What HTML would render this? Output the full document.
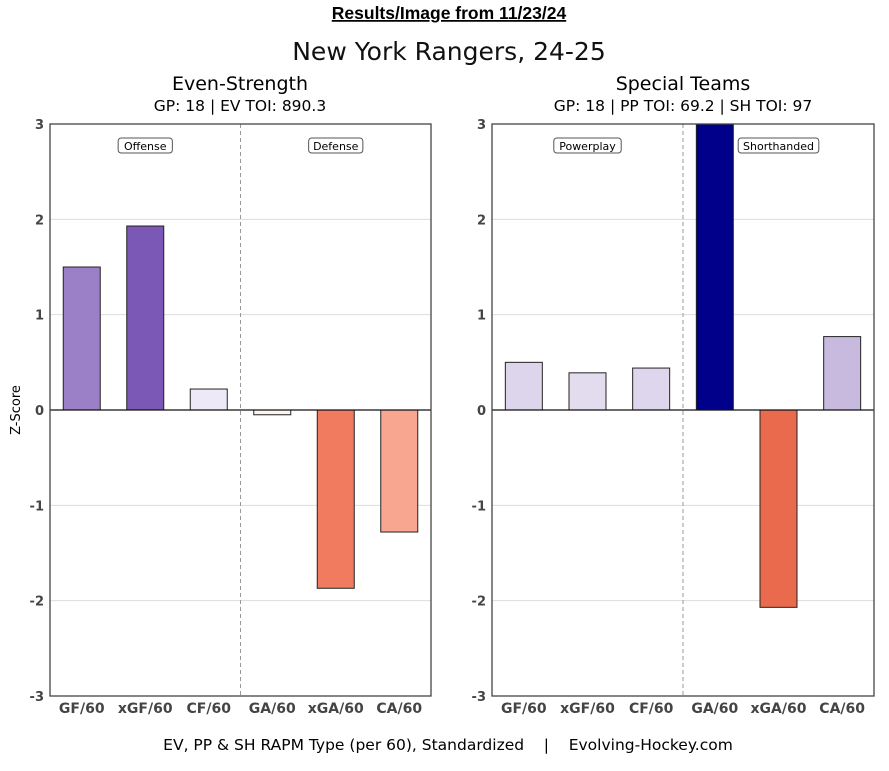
<!DOCTYPE html>
<html><head><meta charset="utf-8"><style>
body{margin:0;background:#fff;width:889px;height:767px;overflow:hidden;font-family:"DejaVu Sans","Liberation Sans",sans-serif}
svg text{font-family:"DejaVu Sans","Liberation Sans",sans-serif}
</style></head><body>
<svg id="chart" width="889" height="767">
<text x="449" y="19" text-anchor="middle" font-weight="bold" font-size="17.5" text-decoration="underline" style="font-family:'Liberation Sans',sans-serif">Results/Image from 11/23/24</text>
<text x="449" y="60" text-anchor="middle" font-size="25" fill="#111">New York Rangers, 24-25</text>
<text x="240" y="90" text-anchor="middle" font-size="19">Even-Strength</text>
<text x="240" y="111" text-anchor="middle" font-size="15.5">GP: 18 | EV TOI: 890.3</text>
<text x="683" y="90" text-anchor="middle" font-size="19">Special Teams</text>
<text x="683" y="111" text-anchor="middle" font-size="15.5">GP: 18 | PP TOI: 69.2 | SH TOI: 97</text>
<text x="20" y="410" text-anchor="middle" font-size="13" transform="rotate(-90 20 410)">Z-Score</text>
<text x="448" y="750" text-anchor="middle" font-size="15.5">EV, PP &amp; SH RAPM Type (per 60), Standardized &#160;&#160;&#160;| &#160;&#160;&#160;Evolving-Hockey.com</text>
<g id="panels"></g>
</svg>
<script>
const categories=["GF/60","xGF/60","CF/60","GA/60","xGA/60","CA/60"];
const evValues=[1.5,1.93,0.22,-0.05,-1.87,-1.28];
const stValues=[0.5,0.39,0.44,3.3,-2.07,0.77];
const evColors=["#9b80c8","#7b58b5","#eee9f6","#fdf3f0","#f07b5e","#f9a690"];
const stColors=["#ddd5ec","#e3dcef","#ded6ed","#00008b","#ea6a4e","#c8badf"];
const yTicks=[3,2,1,0,-1,-2,-3];
const NS="http://www.w3.org/2000/svg";
const yTop=124,yBot=696,ymin=-3,ymax=3;
const yS=v=>yTop+(ymax-Math.max(ymin,Math.min(ymax,v)))/(ymax-ymin)*(yBot-yTop);
function el(t,a,p){const e=document.createElementNS(NS,t);for(const k in a)e.setAttribute(k,a[k]);p.appendChild(e);return e;}
const root=document.getElementById('panels');
function panel(x0,x1,vals,cols,labels,name){
  const g=el('g',{},root);
  
  
  const w=x1-x0,step=w/6;
  yTicks.forEach(t=>{
    if(t!==3&&t!==-3&&t!==0){const l=el('line',{x1:x0,x2:x1,y1:yS(t),y2:yS(t),stroke:'#ddd','stroke-width':1},g);
    
    }
    const tx=el('text',{x:x0-6,y:yS(t)+5,'text-anchor':'end','font-size':13,'font-weight':'bold',fill:'#444'},g);
    tx.textContent=t;
    
    
  });
  const mid=x0+w/2;
  const d=el('line',{x1:mid,x2:mid,y1:yTop,y2:yBot,stroke:'#999','stroke-dasharray':'4,3'},g);
  
  
  vals.forEach((v,i)=>{
    const cx=x0+step*(i+0.5),bw=37;
    const r=el('rect',{x:cx-bw/2,y:Math.min(yS(v),yS(0)),width:bw,height:Math.abs(yS(v)-yS(0)),fill:cols[i],stroke:'#222','stroke-width':1},g);
    
    
    const t=el('text',{x:cx,y:713,'text-anchor':'middle','font-size':14,'font-weight':'bold',fill:'#444'},g);
    t.textContent=categories[i];
    
    
  });
  const z=el('line',{x1:x0,x2:x1,y1:yS(0),y2:yS(0),stroke:'#111','stroke-width':1.2},g);
  
  
  const fr=el('rect',{x:x0,y:yTop,width:w,height:yBot-yTop,fill:'none',stroke:'#444','stroke-width':1.3},g);
  
  
  labels.forEach((lb,k)=>{
    const cx=x0+w*(k?0.75:0.25);
    const tw=lb.length*6.6+8;
    const b=el('rect',{x:cx-tw/2,y:138,width:tw,height:15,rx:3,fill:'#fff',stroke:'#555'},g);
    
    
    const t=el('text',{x:cx,y:150,'text-anchor':'middle','font-size':11},g);
    t.textContent=lb;
    
    
  });
}
panel(50,431,evValues,evColors,["Offense","Defense"],'even-strength-panel');
panel(492,874,stValues,stColors,["Powerplay","Shorthanded"],'special-teams-panel');
</script>
</body></html>
